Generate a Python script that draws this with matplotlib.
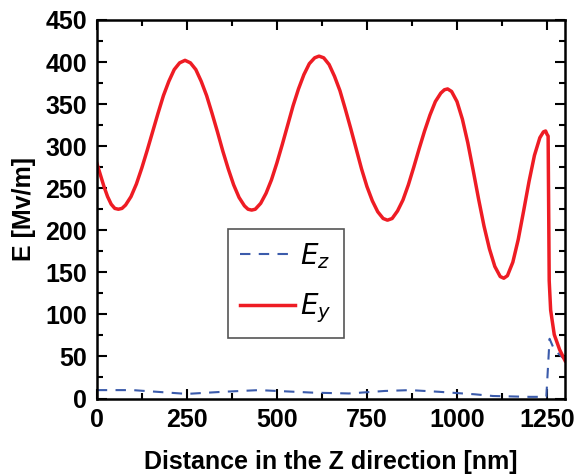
import matplotlib.pyplot as plt
from matplotlib.ticker import MultipleLocator

plt.rcParams['font.family'] = ['Liberation Sans', 'DejaVu Sans']

# Ey (red)
ey_x = [0, 10, 20, 30, 40, 50, 60, 70, 80, 95, 110, 125, 140, 155, 170, 185, 200, 215, 230, 245,
        260, 275, 290, 305, 320, 335, 350, 365, 380, 395, 410, 420, 430,
        440, 455, 470, 485, 500, 515, 530, 545, 560, 575, 590, 605, 617,
        630, 645, 660, 675, 690, 705, 720, 735, 750, 765, 780, 795, 807,
        820, 835, 850, 865, 880, 895, 910, 925, 940, 955, 965, 974,
        985, 1000, 1015, 1030, 1045, 1060, 1075, 1090, 1105, 1120, 1130,
        1140, 1155, 1170, 1185, 1200, 1215, 1230, 1240, 1246,
        1250, 1253, 1256, 1260, 1270, 1285, 1300]
ey_y = [280, 266, 252, 240, 231, 226, 225, 226, 230, 240, 255, 274, 295, 317, 339, 360, 377, 391, 399, 402,
        399, 391, 377, 360, 339, 317, 294, 273, 254, 239, 229, 225, 224,
        225, 232, 244, 260, 280, 302, 325, 348, 368, 385, 398, 405, 407,
        405, 397, 383, 366, 344, 321, 297, 273, 252, 235, 222, 214, 212,
        214, 223, 236, 254, 275, 297, 318, 337, 353, 363, 367, 368,
        365, 353, 332, 304, 271, 237, 205, 178, 157, 145, 143,
        146, 162, 189, 223, 258, 289, 310, 317, 318,
        314, 312, 140, 105, 76, 58, 45]

# Ez (blue dashed)
ez_x = [0, 100, 200, 250, 350, 450, 500, 600, 700, 800, 870, 950, 1050, 1100, 1200,
        1248, 1257, 1270, 1300]
ez_y = [10, 10, 7, 5.5, 8, 10, 9, 7, 6, 9, 10, 8, 5, 3, 2,
        2, 71, 58, 46]

fig = plt.figure(figsize=(5.76, 4.75), dpi=100)
ax = fig.add_axes([0.168, 0.161, 0.813, 0.797])

ax.plot(ez_x, ez_y, color='#3b5bab', lw=1.5, ls=(0, (5, 4)), label='$E_z$')
ax.plot(ey_x, ey_y, color='#ee1c24', lw=2.5, label='$E_y$')

ax.set_xlim(0, 1300)
ax.set_ylim(0, 450)
ax.xaxis.set_major_locator(MultipleLocator(250))
ax.xaxis.set_minor_locator(MultipleLocator(125))
ax.yaxis.set_major_locator(MultipleLocator(50))
ax.yaxis.set_minor_locator(MultipleLocator(25))
ax.tick_params(which='both', direction='in', top=True, right=True, width=1.5,
               labelsize=18, pad=7)
ax.tick_params(which='major', length=7)
ax.tick_params(which='minor', length=4)
for lbl in ax.get_xticklabels() + ax.get_yticklabels():
    lbl.set_fontweight('bold')
for s in ax.spines.values():
    s.set_linewidth(1.8)

ax.set_xlabel('Distance in the Z direction [nm]', fontsize=18, fontweight='bold', labelpad=13)
ax.set_ylabel('E [Mv/m]', fontsize=18, fontweight='bold', labelpad=7)

leg = ax.legend(loc='lower left', bbox_to_anchor=(0.28, 0.16), borderaxespad=0,
                fontsize=20, fancybox=False, framealpha=1, edgecolor='#555555',
                handlelength=1.95, handletextpad=0.2, borderpad=0.45, labelspacing=0.75)
leg.get_frame().set_linewidth(1.2)

fig.savefig('out.png', dpi=100)
